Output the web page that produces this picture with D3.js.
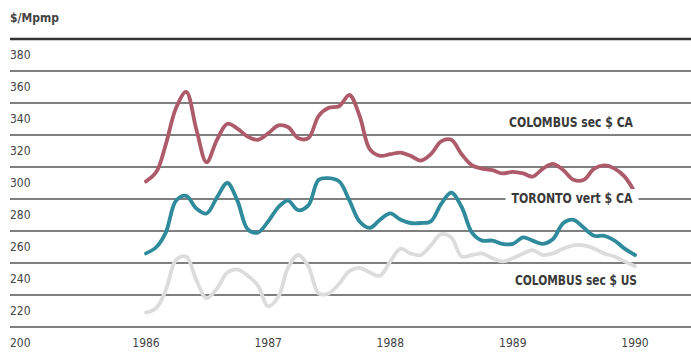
<!DOCTYPE html>
<html>
<head>
<meta charset="utf-8">
<script src="https://cdn.jsdelivr.net/npm/d3@7"></script>
<style>
  html, body { margin: 0; padding: 0; background: #fff; }
  svg { display: block; }
  text { font-family: "DejaVu Sans Condensed", "DejaVu Sans", sans-serif; font-stretch: condensed; fill: #444; }
</style>
</head>
<body>
<div id="chart"></div>
<script>
// monthly, Jan 1986 .. Jan 1990
const months = d3.timeMonth.range(new Date(1986, 0, 1), new Date(1990, 1, 1));

const yearTicks = [1986, 1987, 1988, 1989, 1990];
const yTicks = [200, 220, 240, 260, 280, 300, 320, 340, 360, 380];

const colombusCA = [291, 297, 314, 337, 347, 323, 303, 317, 327, 324, 319, 317,
  321, 326, 325, 318, 318, 332, 337, 338, 345, 332, 311, 307,
  308, 309, 307, 304, 308, 316, 317, 308, 301, 299, 298, 296,
  297, 296, 294, 299, 302, 298, 292, 292, 299, 301, 299, 294, 284];

const torontoCA = [246, 250, 259, 279, 282, 274, 271, 281, 290, 279, 261, 259,
  266, 275, 279, 273, 276, 292, 293, 291, 279, 266, 262, 267,
  271, 267, 265, 265, 266, 277, 284, 275, 259, 254, 254, 252,
  252, 256, 254, 252, 255, 265, 267, 262, 257, 257, 254, 249, 245];

const colombusUS = [209, 212, 223, 242, 244, 229, 218, 224, 234, 236, 232, 226,
  213, 219, 237, 245, 238, 221, 221, 227, 235, 237, 234, 232,
  241, 249, 246, 245, 251, 258, 256, 244, 245, 246, 243, 241,
  243, 246, 248, 245, 246, 249, 251, 251, 249, 246, 244, 241, 238];

const seriesNames = ["COLOMBUS sec $ CA", "TORONTO vert $ CA", "COLOMBUS sec $ US"];
const seriesColors = ["#ad5a6b", "#2f8a9c", "#dcdcdc"];

const W = 691, H = 353;

const svg = d3.select("#chart").append("svg")
  .attr("width", W)
  .attr("height", H);

const x = d3.scaleTime()
  .domain([new Date(1986, 0, 1), new Date(1990, 0, 1)])
  .range([146, 635]);

const y = d3.scaleLinear()
  .domain([200, 380])
  .range([327, 39]);

// gridlines
svg.append("g").selectAll("line")
  .data(yTicks)
  .join("line")
  .attr("x1", 10)
  .attr("x2", W)
  .attr("y1", d => y(d))
  .attr("y2", d => y(d))
  .attr("stroke", d => d === 380 ? "#333" : "#555")
  .attr("stroke-width", d => d === 380 ? 2.5 : 1.4);

// y labels (sit under their line)
svg.append("g").selectAll("text")
  .data(yTicks)
  .join("text")
  .attr("x", 10)
  .attr("y", d => y(d) + 20)
  .style("font-size", "12px")
  .text(d => d);

svg.append("text")
  .attr("x", 10)
  .attr("y", 22)
  .style("font-size", "12px")
  .style("font-weight", "bold")
  .text("$/Mpmp");

// x labels
svg.append("g").selectAll("text")
  .data(yearTicks)
  .join("text")
  .attr("x", d => x(new Date(d, 0, 1)))
  .attr("y", 347)
  .attr("text-anchor", "middle")
  .style("font-size", "12px")
  .text(d => d);

const line = d3.line()
  .x((d, i) => x(months[i]))
  .y(d => y(d))
  .curve(d3.curveCatmullRom.alpha(0.5));

// draw back to front
const series = [colombusUS, torontoCA, colombusCA];
const cols = [seriesColors[2], seriesColors[1], seriesColors[0]];
series.forEach((s, k) => {
  svg.append("path")
    .datum(s)
    .attr("d", line)
    .attr("fill", "none")
    .attr("stroke", cols[k])
    .attr("stroke-width", 3.8)
    .attr("stroke-linejoin", "round")
    .attr("stroke-linecap", "round");
});

// series labels
const labelPos = [
  { cx: 571, cy: 122, w: 124, bg: false },
  { cx: 572, cy: 198, w: 121, bg: true },
  { cx: 576, cy: 280, w: 122, bg: false }
];

seriesNames.forEach((name, i) => {
  const p = labelPos[i];
  if (p.bg) {
    svg.append("rect")
      .attr("x", p.cx - p.w / 2 - 6)
      .attr("y", p.cy - 9)
      .attr("width", p.w + 12)
      .attr("height", 18)
      .attr("fill", "#fff");
  }
  svg.append("text")
    .attr("x", p.cx)
    .attr("y", p.cy + 5)
    .attr("text-anchor", "middle")
    .attr("textLength", p.w)
    .attr("lengthAdjust", "spacingAndGlyphs")
    .style("font-size", "14px")
    .style("font-weight", "bold")
    .style("fill", "#3a3a3a")
    .text(name);
});
</script>
</body>
</html>
